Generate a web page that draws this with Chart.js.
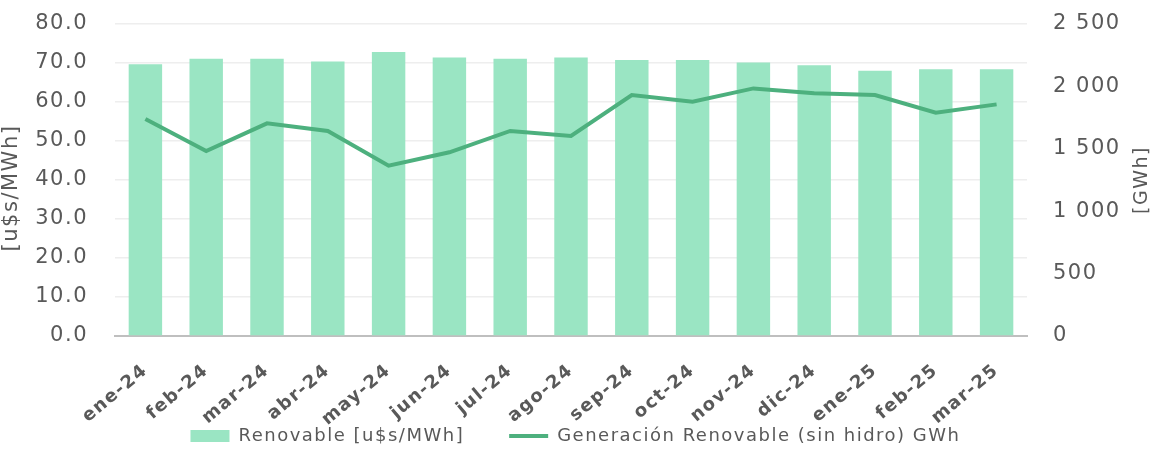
<!DOCTYPE html>
<html>
<head>
<meta charset="utf-8">
<script src="https://cdn.jsdelivr.net/npm/chart.js@4.4.1/dist/chart.umd.min.js"></script>
<style>
  html, body { margin: 0; padding: 0; background: #ffffff; }
  #wrap { width: 1165px; height: 455px; position: relative; }
</style>
</head>
<body>
<div id="wrap"><canvas id="chart"></canvas></div>
<script>
const categories = ['ene-24', 'feb-24', 'mar-24', 'abr-24', 'may-24', 'jun-24', 'jul-24', 'ago-24',
    'sep-24', 'oct-24', 'nov-24', 'dic-24', 'ene-25', 'feb-25', 'mar-25'];
// precio renovable [u$s/MWh]
const precioRenovable = [69.7, 71.1, 71.1, 70.4, 72.8, 71.4, 71.1, 71.4, 70.8, 70.8, 70.1, 69.4, 68.0, 68.4, 68.4];
// generacion renovable sin hidro [GWh]
const generacionRenovable = [1739, 1482, 1704, 1643, 1365, 1472, 1643, 1603, 1931, 1878, 1984, 1945, 1931, 1790, 1856];

const barColor = '#9AE5C3';
const lineColor = '#4DB07E';
const textColor = '#595959';
const fontFamily = '"DejaVu Sans", sans-serif';
const letterSp = '1.5px';

function fmtGwh(v) {
    let s = String(Math.round(v));
    if (s.length > 3) s = s.slice(0, s.length - 3) + ' ' + s.slice(-3);
    return s;
}

// la fuente original es mas ancha, se abre un poco el espaciado
const spacing = {
    id: 'spacing',
    beforeLayout(chart) { chart.ctx.letterSpacing = letterSp; },
    afterLayout(chart) {
        // la leyenda del original queda algo corrida a la izquierda
        chart.legend.left -= 7;
        chart.legend.right -= 7;
    },
    beforeDraw(chart) { chart.ctx.letterSpacing = letterSp; }
};

// titulos de los ejes, ambos leidos de abajo hacia arriba
const axisTitles = {
    id: 'axisTitles',
    afterDraw(chart) {
        const area = chart.chartArea;
        const ctx = chart.ctx;
        const mid = (area.top + area.bottom) / 2;
        let draw = (txt, x, y, size) => {
            ctx.save();
            ctx.translate(x, y);
            ctx.rotate(-Math.PI / 2);
            ctx.letterSpacing = letterSp;
            ctx.font = size + 'px ' + fontFamily;
            ctx.fillStyle = textColor;
            ctx.textAlign = 'center';
            ctx.textBaseline = 'middle';
            ctx.fillText(txt, 0, 0);
            ctx.restore();
        };
        draw('[u$s/MWh]', chart.scales.yPrecio.left + 12, mid + 8, 21);
        draw('[GWh]', chart.scales.yGen.right - 23, mid, 19);
    }
};

let ctx = document.getElementById('chart').getContext('2d');

const data = {
    labels: categories,
    datasets: [{
        type: 'bar',
        label: 'Renovable [u$s/MWh]',
        data: precioRenovable,
        backgroundColor: barColor,
        borderWidth: 0,
        barPercentage: 0.55,
        categoryPercentage: 1,
        yAxisID: 'yPrecio',
        order: 2
    }, {
        type: 'line',
        label: 'Generación Renovable (sin hidro) GWh',
        data: generacionRenovable,
        borderColor: lineColor,
        backgroundColor: lineColor,
        borderWidth: 4,
        pointRadius: 0,
        tension: 0,
        yAxisID: 'yGen',
        order: 1
    }]
};

const config = {
    data: data,
    plugins: [spacing, axisTitles],
    options: {
        responsive: true,
        maintainAspectRatio: false,
        animation: false,
        layout: { padding: { top: 24, left: 0, right: 0, bottom: 0 } },
        plugins: {
            tooltip: { enabled: false },
            legend: {
                position: 'bottom',
                labels: {
                    usePointStyle: true,
                    pointStyleWidth: 39,
                    boxHeight: 12,
                    padding: 45,
                    color: textColor,
                    font: { family: fontFamily, size: 18 },
                    generateLabels(chart) {
                        return chart.data.datasets.map((ds, i) => ({
                            text: ds.label,
                            datasetIndex: i,
                            fillStyle: ds.backgroundColor,
                            strokeStyle: ds.type === 'line' ? ds.borderColor : ds.backgroundColor,
                            lineWidth: ds.type === 'line' ? 4 : 0,
                            pointStyle: ds.type === 'line' ? 'line' : 'rect',
                            fontColor: textColor,
                            hidden: false
                        }));
                    }
                }
            }
        },
        scales: {
            x: {
                grid: { display: false },
                border: { display: true, color: '#BFBFBF', width: 2 },
                ticks: {
                    autoSkip: false,
                    minRotation: 40,
                    maxRotation: 40,
                    padding: 16,
                    color: textColor,
                    font: { family: fontFamily, size: 18, weight: 'bold' }
                },
                afterFit(scale) {
                    scale.height = 46;
                    // las etiquetas giradas bajan hasta la leyenda, no recortarlas
                    scale._computeLabelArea = () => undefined;
                }
            },
            yPrecio: {
                position: 'left',
                min: 0,
                max: 80,
                // el hueco entre numeros y area va como marca invisible
                grid: { color: '#EEEEEE', lineWidth: 1.5, drawTicks: true, tickLength: 26, tickColor: 'rgba(0,0,0,0)' },
                border: { display: false },
                ticks: {
                    stepSize: 10,
                    padding: 1,
                    color: textColor,
                    font: { family: fontFamily, size: 21 },
                    callback: (v) => v.toFixed(1)
                },
                afterFit(scale) { scale.width = 115; }
            },
            yGen: {
                position: 'right',
                min: 0,
                max: 2500,
                grid: { display: true, drawOnChartArea: false, drawTicks: true, tickLength: 25, tickColor: 'rgba(0,0,0,0)' },
                border: { display: false },
                ticks: {
                    stepSize: 500,
                    padding: 1,
                    color: textColor,
                    font: { family: fontFamily, size: 21 },
                    callback: (v) => fmtGwh(v)
                },
                afterFit(scale) { scale.width = 138; }
            }
        }
    }
};

let chart = new Chart(ctx, config);
</script>
</body>
</html>
